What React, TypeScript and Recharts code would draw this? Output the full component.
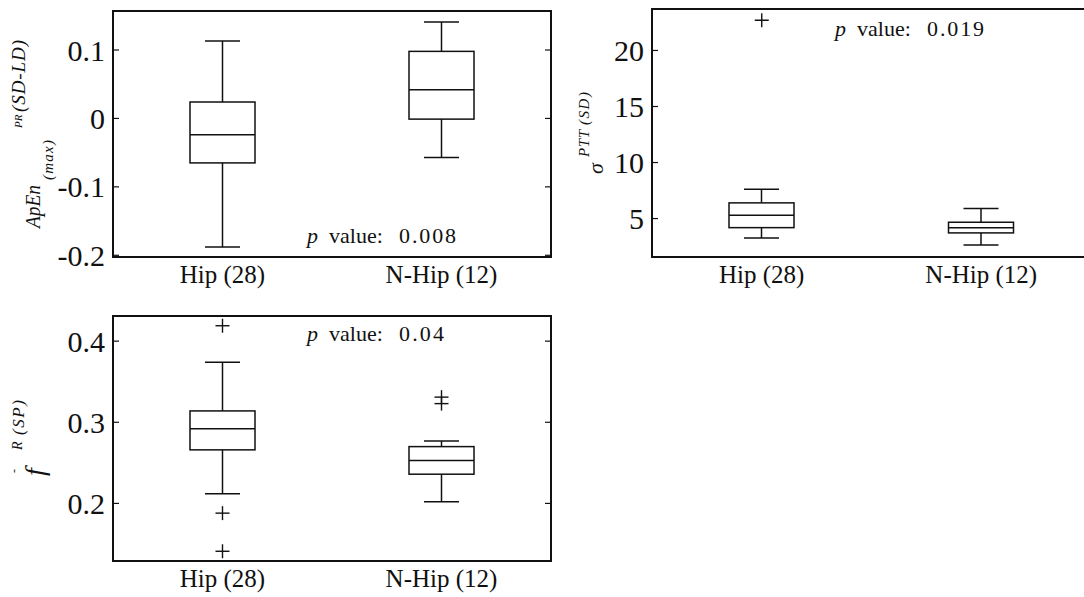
import { ComposedChart, Bar, Scatter, XAxis, YAxis, ReferenceArea, Customized } from 'recharts';

const SERIF = "'Liberation Serif', 'DejaVu Serif', serif";
const INK = '#111';

const groups = ['Hip (28)', 'N-Hip (12)'];

// ApEn(max) PR (SD-LD)
const apenLow = [-0.188, -0.057];
const apenQ1 = [-0.065, -0.001];
const apenMed = [-0.024, 0.042];
const apenQ3 = [0.024, 0.098];
const apenHigh = [0.113, 0.141];
const apenOutliers: number[][] = [[], []];
const apenTicks = [-0.2, -0.1, 0, 0.1];

// sigma PTT (SD)
const pttLow = [3.27, 2.64];
const pttQ1 = [4.19, 3.72];
const pttMed = [5.3, 4.19];
const pttQ3 = [6.4, 4.67];
const pttHigh = [7.62, 5.89];
const pttOutliers = [[22.69], []];
const pttTicks = [5, 10, 15, 20];

// f R (SP)
const fLow = [0.212, 0.202];
const fQ1 = [0.266, 0.236];
const fMed = [0.292, 0.253];
const fQ3 = [0.314, 0.27];
const fHigh = [0.374, 0.277];
const fOutliers = [[0.419, 0.188, 0.141], [0.331, 0.323]];
const fTicks = [0.2, 0.3, 0.4];

function buildRows(lo: number[], q1: number[], med: number[], q3: number[], hi: number[], out: number[][]) {
  return groups.map((name, i) => ({
    name,
    lo: lo[i],
    q1: q1[i],
    med: med[i],
    q3: q3[i],
    hi: hi[i],
    o0: out[i][0] ?? null,
    o1: out[i][1] ?? null,
    o2: out[i][2] ?? null,
  }));
}

const BoxShape = (props: any) => {
  const { x, y, width, height, payload } = props;
  const { lo, q1, med, q3, hi } = payload;
  // linear position inside the bar drawn from lo to hi
  const py = (v: number) => y + ((hi - v) / (hi - lo)) * height;
  const cx = x + width / 2;
  const cap = 17.5;
  const s = { stroke: INK, strokeWidth: 1.5, fill: 'none' };
  return (
    <g>
      <line x1={cx} x2={cx} y1={py(hi)} y2={py(q3)} {...s} />
      <line x1={cx} x2={cx} y1={py(q1)} y2={py(lo)} {...s} />
      <line x1={cx - cap} x2={cx + cap} y1={py(hi)} y2={py(hi)} {...s} />
      <line x1={cx - cap} x2={cx + cap} y1={py(lo)} y2={py(lo)} {...s} />
      <rect x={x} y={py(q3)} width={width} height={py(q1) - py(q3)} {...s} />
      <line x1={x} x2={x + width} y1={py(med)} y2={py(med)} {...s} />
    </g>
  );
};

const plus = (key: string) => (props: any) => {
  const { cx, cy, payload } = props;
  if (payload == null || payload[key] == null || cx == null || cy == null || Number.isNaN(cy)) return <g />;
  return (
    <g>
      <line x1={cx - 7} x2={cx + 7} y1={cy} y2={cy} stroke={INK} strokeWidth={1.4} />
      <line x1={cx} x2={cx} y1={cy - 7} y2={cy + 7} stroke={INK} strokeWidth={1.4} />
    </g>
  );
};

// inward ticks on both the left and the right frame edge, label on the left
const LeftTick = (props: any) => {
  const { x, y, payload, plotW } = props;
  return (
    <g>
      <line x1={x} x2={x + 6} y1={y} y2={y} stroke={INK} strokeWidth={1.2} />
      <line x1={x + plotW - 6} x2={x + plotW} y1={y} y2={y} stroke={INK} strokeWidth={1.2} />
      <text x={x - 8} y={y} dy="0.35em" textAnchor="end" style={{ fontFamily: SERIF, fontSize: 30 }} fill={INK}>
        {String(payload.value)}
      </text>
    </g>
  );
};

const BottomTick = (props: any) => {
  const { x, y, payload } = props;
  return (
    <text x={x} y={y + 26} textAnchor="middle" style={{ fontFamily: SERIF, fontSize: 25 }} fill={INK}>
      {payload.value}
    </text>
  );
};

function PValue({ x, y, value, len }: { x: number; y: number; value: string; len: number }) {
  return (
    <text style={{ fontFamily: SERIF, fontSize: 22 }} fill={INK}>
      <tspan x={x} y={y} fontStyle="italic">p</tspan>
      <tspan x={x + 22} y={y}>value:</tspan>
      <tspan x={x + 92} y={y} textLength={len} lengthAdjust="spacing">{value}</tspan>
    </text>
  );
}

interface PanelProps {
  rows: any[];
  domain: [number, number];
  ticks: number[];
  height: number;
  top: number;
  yWidth: number;
  xHeight: number;
  extra: React.ReactNode;
}

const CHART_W = 570;
const RIGHT = 19;

function Panel({ rows, domain, ticks, height, top, yWidth, xHeight, extra }: PanelProps) {
  const plotW = CHART_W - RIGHT - yWidth;
  return (
    <ComposedChart width={CHART_W} height={height} data={rows} margin={{ top, right: RIGHT, bottom: 0, left: 0 }}>
      <XAxis dataKey="name" type="category" interval={0} height={xHeight} axisLine={false} tickLine={false}
        tickSize={0} tickMargin={0} tick={<BottomTick />} />
      <YAxis type="number" domain={domain} ticks={ticks} allowDataOverflow width={yWidth} axisLine={false}
        tickLine={false} tickSize={0} tickMargin={0} tick={<LeftTick plotW={plotW} />} />
      <ReferenceArea x1={groups[0]} x2={groups[groups.length - 1]} y1={domain[0]} y2={domain[1]}
        stroke={INK} strokeWidth={2} fill="none" fillOpacity={0} ifOverflow="visible" />
      <Bar dataKey={(d: any) => [d.lo, d.hi]} barSize={65} shape={(p: any) => <BoxShape {...p} />} isAnimationActive={false} />
      <Scatter dataKey="o0" shape={plus('o0')} isAnimationActive={false} />
      <Scatter dataKey="o1" shape={plus('o1')} isAnimationActive={false} />
      <Scatter dataKey="o2" shape={plus('o2')} isAnimationActive={false} />
      <Customized component={() => <g>{extra}</g>} />
    </ComposedChart>
  );
}

const it = { fontFamily: SERIF, fontStyle: 'italic' as const };

const apenLabel = (
  <text transform="rotate(-90)" style={it} fill={INK}>
    <tspan x={-228} y={40} fontSize={21} textLength={43} lengthAdjust="spacingAndGlyphs">ApEn</tspan>
    <tspan x={-180} y={53} fontSize={15} textLength={40} lengthAdjust="spacing">(max)</tspan>
    <tspan x={-128} y={22} fontSize={11}>PR</tspan>
    <tspan x={-112} y={25} fontSize={19} textLength={72} lengthAdjust="spacing">(SD-LD)</tspan>
  </text>
);

const pttLabel = (
  <text transform="rotate(-90)" style={it} fill={INK}>
    <tspan x={-174} y={63} fontSize={22}>σ</tspan>
    <tspan x={-157} y={49} fontSize={15} textLength={27} lengthAdjust="spacing">PTT</tspan>
    <tspan x={-125} y={49} fontSize={15} textLength={33} lengthAdjust="spacing">(SD)</tspan>
  </text>
);

const fLabel = (
  <text transform="rotate(-90)" style={it} fill={INK}>
    <tspan x={-176} y={18} fontSize={12} fontStyle="normal">-</tspan>
    <tspan x={-179} y={44} fontSize={28}>f</tspan>
    <tspan x={-153} y={22} fontSize={14}>R</tspan>
    <tspan x={-138} y={24} fontSize={17} textLength={35} lengthAdjust="spacing">(SP)</tspan>
  </text>
);

export default function App() {
  return (
    <div style={{ position: 'absolute', left: 0, top: 0, width: 1084, height: 597, overflow: 'hidden', background: '#fff', fontFamily: SERIF }}>
      <div style={{ position: 'absolute', left: 0, top: 0 }}>
        <Panel rows={buildRows(apenLow, apenQ1, apenMed, apenQ3, apenHigh, apenOutliers)} domain={[-0.2025, 0.157]}
          ticks={apenTicks} height={297} top={11} yWidth={113} xHeight={40}
          extra={<>{apenLabel}<PValue x={307} y={243} value="0.008" len={57} /></>} />
      </div>
      <div style={{ position: 'absolute', left: 540, top: 0 }}>
        <Panel rows={buildRows(pttLow, pttQ1, pttMed, pttQ3, pttHigh, pttOutliers)} domain={[1.57, 23.7]}
          ticks={pttTicks} height={297} top={9} yWidth={112} xHeight={40}
          extra={<>{pttLabel}<PValue x={295} y={36} value="0.019" len={57} /></>} />
      </div>
      <div style={{ position: 'absolute', left: 0, top: 297 }}>
        <Panel rows={buildRows(fLow, fQ1, fMed, fQ3, fHigh, fOutliers)} domain={[0.129, 0.431]}
          ticks={fTicks} height={300} top={19} yWidth={113} xHeight={36}
          extra={<>{fLabel}<PValue x={307} y={44} value="0.04" len={45} /></>} />
      </div>
    </div>
  );
}
